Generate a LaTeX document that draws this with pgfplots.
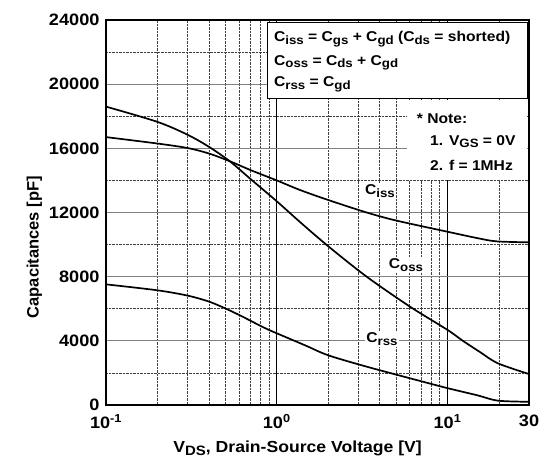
\documentclass[border=0pt]{standalone}
\usepackage{pgfplots}
\pgfplotsset{compat=1.18}
\usepackage{fontspec}
\setmainfont{Liberation Sans}
\newfontfamily\wide{Liberation Sans}[FakeStretch=1.1]
\newcommand\sub[1]{\raisebox{-0.35ex}{\scalebox{0.85}{#1}}}
\begin{document}
\begin{tikzpicture}
\begin{axis}[
 name=ax, scale only axis, width=423pt, height=385pt, at={(0,0)}, anchor=south west,
 xmode=log, xmin=0.1, xmax=30, ymin=0, ymax=24000,
 xtick={0.1,1,10,30},
 xticklabels={10\textsuperscript{-1},10\textsuperscript{0},10\textsuperscript{1},30},
 minor xtick={0.2,0.3,0.4,0.5,0.6,0.7,0.8,0.9,2,3,4,5,6,7,8,9,20},
 ytick={0,4000,8000,12000,16000,20000,24000},
 minor ytick={2000,6000,10000,14000,18000,22000},
 grid=both,
 major x grid style={black, line width=0.6pt},
 major y grid style={gray, line width=0.9pt},
 minor grid style={densely dotted, black!75, line width=0.6pt},
 major tick length=0pt, minor tick length=0pt,
 axis line style={line width=1.3pt},
 ticklabel style={font=\fontsize{16.5}{18}\wide\bfseries},
 xticklabel style={yshift=-6pt},
 yticklabel style={xshift=-3pt},
 /pgf/number format/assume math mode=true,
 /pgf/number format/set thousands separator={},
 scaled y ticks=false,
 xlabel={V\sub{DS}, Drain-Source Voltage [V]},
 ylabel={Capacitances [pF]},
 xlabel style={at={(ticklabel cs:0.453)}, font=\fontsize{16}{18}\wide\bfseries, yshift=-5pt},
 ylabel style={at={(ticklabel cs:0.41)}, font=\fontsize{16.5}{18}\bfseries, xshift=0pt},
]
% Ciss
\addplot[black, line width=1.7pt, smooth] coordinates {
 (0.1,16700) (0.2,16300) (0.3,16020) (0.4,15680) (0.53,15200) (0.7,14650)
 (1,14000) (1.37,13400) (2,12780) (3.36,12000) (5,11500) (10,10800)
 (15,10400) (19.4,10200) (30,10140)};
% Coss
\addplot[black, line width=1.7pt, smooth] coordinates {
 (0.1,18600) (0.2,17650) (0.3,16850) (0.4,16100) (0.53,15200) (0.7,14100)
 (1,12700) (1.37,11400) (2,9900) (3.36,8000) (6.03,6130) (10,4680)
 (12.3,4000) (15.5,3300) (19.7,2600) (30,1930)};
% Crss
\addplot[black, line width=1.7pt, smooth] coordinates {
 (0.1,7520) (0.2,7150) (0.3,6820) (0.4,6450) (0.5,6020) (0.6,5620)
 (0.7,5260) (0.8,4940) (0.9,4680) (1,4470) (1.48,3700) (2,3100)
 (3.36,2390) (6.9,1500) (10,1050) (15,600) (19.7,270) (30,200)};

\draw[fill=white, line width=0.8pt] (rel axis cs:0.381,0.797) rectangle (rel axis cs:0.997,0.995);
\node[anchor=base west, inner sep=0pt, font=\fontsize{14.2}{16}\wide\bfseries] at (rel axis cs:0.397,0.943)
 {C\sub{iss} = C\sub{gs} + C\sub{gd} (C\sub{ds} = shorted)};
\node[anchor=base west, inner sep=0pt, font=\fontsize{14.2}{16}\wide\bfseries] at (rel axis cs:0.397,0.883)
 {C\sub{oss} = C\sub{ds} + C\sub{gd}};
\node[anchor=base west, inner sep=0pt, font=\fontsize{14.2}{16}\wide\bfseries] at (rel axis cs:0.397,0.826)
 {C\sub{rss} = C\sub{gd}};

\fill[white] (rel axis cs:0.712,0.584) rectangle (rel axis cs:0.995,0.792);
\node[anchor=base west, inner sep=0pt, font=\fontsize{14.2}{16}\wide\bfseries] at (rel axis cs:0.7345,0.730) {* Note:};
\node[anchor=base west, inner sep=0pt, font=\fontsize{14.2}{16}\wide\bfseries] at (rel axis cs:0.766,0.675) {1. V\sub{GS} = 0V};
\node[anchor=base west, inner sep=0pt, font=\fontsize{14.2}{16}\wide\bfseries] at (rel axis cs:0.766,0.610) {2. f = 1MHz};

\node[fill=white, inner sep=1.5pt, font=\fontsize{14.2}{16}\wide\bfseries] at (axis cs:4.02,13340) {C\sub{iss}};
\node[fill=white, inner sep=1.5pt, font=\fontsize{14.2}{16}\wide\bfseries] at (axis cs:5.71,8730) {C\sub{oss}};
\node[fill=white, inner sep=1.5pt, font=\fontsize{14.2}{16}\wide\bfseries] at (axis cs:4.13,4110) {C\sub{rss}};
\end{axis}
\pgfresetboundingbox
\path[use as bounding box] (-106pt,-57pt) rectangle (435pt,405pt);
\end{tikzpicture}
\end{document}
